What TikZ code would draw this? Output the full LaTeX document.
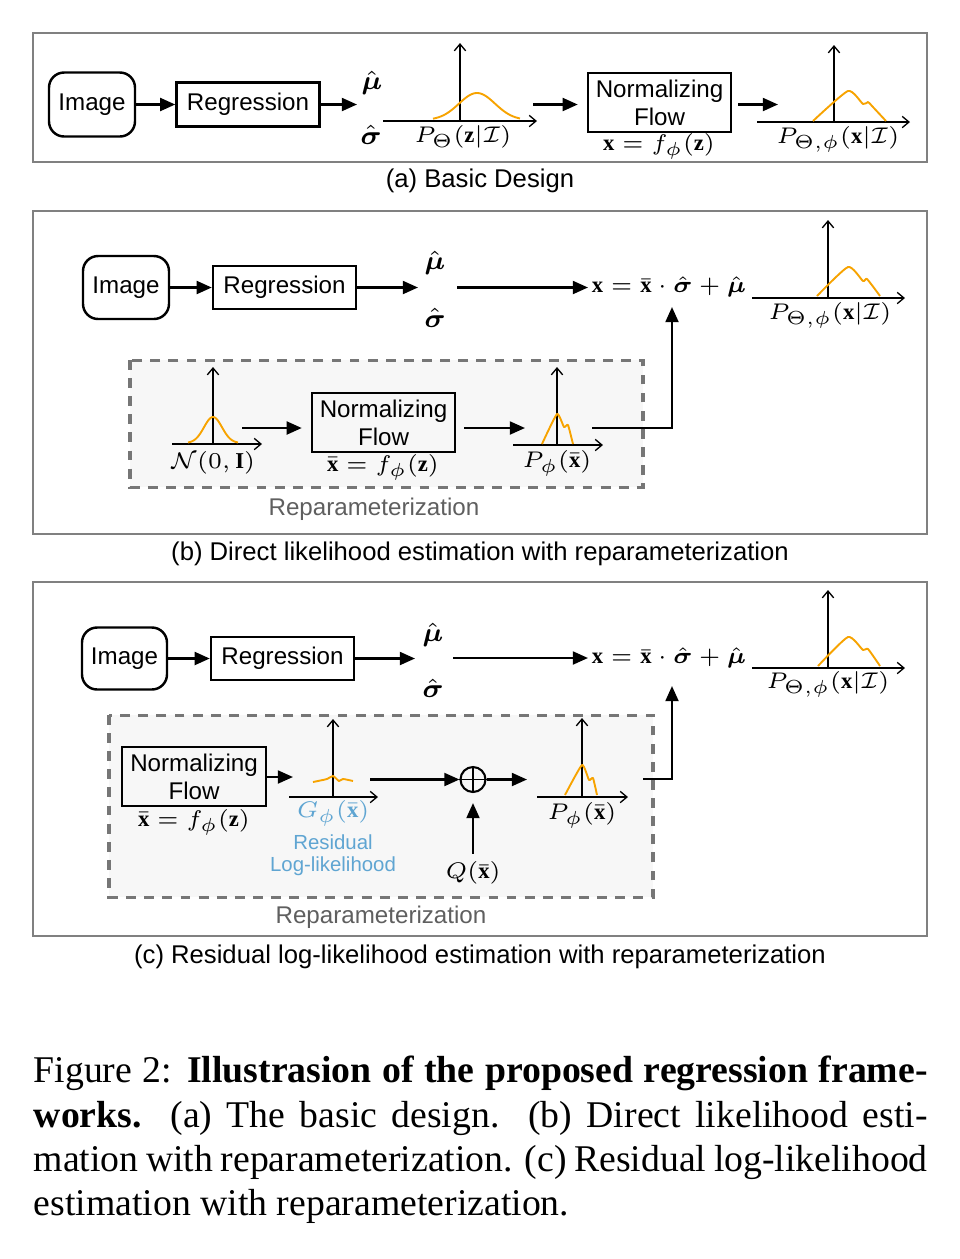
\documentclass[tikz,border=0pt]{standalone}
\usepackage{amsmath}
\usepackage{fontspec}
\setmainfont{Liberation Serif}
\setsansfont{Liberation Sans}
\usetikzlibrary{arrows.meta}
\definecolor{frameg}{RGB}{128,128,128}
\definecolor{dashg}{RGB}{118,118,118}
\definecolor{fillg}{RGB}{247,247,247}
\definecolor{orng}{RGB}{247,163,0}
\definecolor{resblue}{RGB}{95,165,210}
\definecolor{repg}{RGB}{95,95,95}
\def\pxu{0.265pt}
\begin{document}
\begin{tikzpicture}[x=0.265pt,y=-0.265pt,
  sf/.style={font=\sffamily\fontsize{6.4}{7.4}\selectfont},
  mth/.style={font=\fontsize{6}{7}\selectfont, inner sep=0pt},
  mbig/.style={font=\fontsize{7}{8}\selectfont, inner sep=0pt},
  frame/.style={draw=frameg, line width=0.55pt},
  box/.style={draw, line width=0.65pt, sf, inner sep=0pt, align=center},
  rbox/.style={box, rounded corners=4pt},
  arr/.style={line width=0.65pt, -{Triangle[length=4pt,width=3.4pt]}},
  axis/.style={line width=0.35pt, -{Straight Barb[length=1.8pt,width=3pt]}},
  dens/.style={draw=orng, line width=0.5pt, line join=round},
  rep/.style={draw=dashg, fill=fillg, line width=0.8pt, dash pattern=on 2.6pt off 2.2pt},
  lab/.style={font=\sffamily\fontsize{6.8}{7.6}\selectfont, inner sep=0pt},
  replab/.style={font=\sffamily\fontsize{6.4}{7.4}\selectfont, inner sep=0pt, text=repg},
  reslab/.style={font=\sffamily\fontsize{5.4}{6.4}\selectfont, inner sep=0pt, text=resblue},
  capline/.style={anchor=base west, inner sep=0pt, font=\fontsize{10}{12}\selectfont},
]
\useasboundingbox (0,0) rectangle (960,1259);
\fill[white] (0,0) rectangle (960,1259);

% ================= (a) =================
\draw[frame] (33,33) rectangle (927,162);
\node[rbox, minimum width=86*\pxu, minimum height=64*\pxu] (imga) at (92,104.5) {Image};
\node[box, minimum width=143*\pxu, minimum height=44*\pxu] (rega) at (248,104.5) {Regression};
\draw[arr] (imga) -- (rega);
\node[mbig] (mua) at (372,83) {$\hat{\boldsymbol{\mu}}$};
\node[mbig] (siga) at (371,135) {$\hat{\boldsymbol{\sigma}}$};
\coordinate (ina) at (357,104.5);
\draw[arr] (rega.east) -- (ina);
% distribution 1
\draw[axis] (383,121) -- (537,121);
\draw[axis] (460,121) -- (460,43);
\draw[dens] plot[domain=-44:43,samples=60] ({477+\x},{120-27*exp(-(\x/18)^2/2)});
\node[mth] (pa1) at (463,137) {$P_\Theta(\mathbf{z}|\mathcal{I})$};
\node[box, minimum width=143*\pxu, minimum height=59*\pxu] (nfa) at (659.5,102.5) {Normalizing\\Flow};
\coordinate (oa1) at (533,104.5);
\draw[arr, shorten >=9*\pxu] (oa1) -- (oa1 -| nfa.west);
\node[mth] (xa) at (659,146) {$\mathbf{x}=f_\phi(\mathbf{z})$};
\coordinate (ia2) at (778,104.5);
\draw[arr, shorten <=6*\pxu] (nfa.east |- ia2) -- (ia2);
% distribution 2
\draw[axis] (757,122) -- (910,122);
\draw[axis] (834,122) -- (834,45);
\draw[dens] plot[smooth,tension=0.35] coordinates {(813,121) (848,91) (863,104) (868,102) (872,106) (886,121)};
\node[mth] (pa2) at (838,139) {$P_{\Theta,\phi}(\mathbf{x}|\mathcal{I})$};
\node[lab] (capa) at (480,181) {(a) Basic Design};

% ================= (b) =================
\draw[frame] (33,211) rectangle (927,534);
\draw[rep] (130,360) rectangle (643,487);
\node[replab] (repb) at (374,509) {Reparameterization};
\node[rbox, minimum width=86*\pxu, minimum height=63*\pxu] (imgb) at (126,287.5) {Image};
\node[box, minimum width=143*\pxu, minimum height=43*\pxu] (regb) at (284.5,287.5) {Regression};
\draw[arr] (imgb) -- (regb);
\coordinate (inb) at (418,287.5);
\draw[arr] (regb.east) -- (inb);
\node[mbig] (mub) at (435,263) {$\hat{\boldsymbol{\mu}}$};
\node[mbig] (sigb) at (435,318) {$\hat{\boldsymbol{\sigma}}$};
\node[mth] (fb) at (669,287) {$\mathbf{x}=\bar{\mathbf{x}}\cdot\hat{\boldsymbol{\sigma}}+\hat{\boldsymbol{\mu}}$};
\coordinate (ob) at (457,287.5);
\draw[arr] (ob) -- (588,287.5) coordinate (eb);
% output distribution
\draw[axis] (752,298) -- (905,298);
\draw[axis] (828,298) -- (828,220);
\draw[dens] plot[smooth,tension=0.35] coordinates {(817,296) (848,267) (863,281) (867,279) (880,296)};
\node[mth] (pb2) at (830,315) {$P_{\Theta,\phi}(\mathbf{x}|\mathcal{I})$};
% reparameterization
\draw[axis] (172,444) -- (262,444);
\draw[axis] (213,444) -- (213,367);
\draw[dens] plot[domain=-25:25,samples=50] ({213+\x},{443-26*exp(-(\x/9)^2/2)});
\node[mth] (nb) at (213,463) {$\mathcal{N}(0,\mathbf{I})$};
\node[box, minimum width=143*\pxu, minimum height=59*\pxu] (nfb) at (383.5,422.5) {Normalizing\\Flow};
\coordinate (gb) at (242,428);
\draw[arr, shorten >=9*\pxu] (gb) -- (gb -| nfb.west);
\node[mth] (xbb) at (383,467) {$\bar{\mathbf{x}}=f_\phi(\mathbf{z})$};
\coordinate (pbin) at (525,428);
\draw[arr, shorten <=8*\pxu] (nfb.east |- pbin) -- (pbin);
\draw[axis] (513,445) -- (603,445);
\draw[axis] (557,445) -- (557,367);
\draw[dens] plot[smooth,tension=0.3] coordinates {(542,444) (557,414) (564,427) (568,425) (573,444)};
\node[mth] (ppb) at (557,463) {$P_\phi(\bar{\mathbf{x}})$};
\coordinate (pbout) at (592,428);
\coordinate (fbin) at (672,307);
\draw[line width=0.65pt, -{Triangle[length=4pt,width=3.4pt]}] (pbout) -| (fbin);
\node[lab] (capb) at (480,554) {(b) Direct likelihood estimation with reparameterization};

% ================= (c) =================
\draw[frame] (33,582) rectangle (927,936);
\draw[rep] (109,715) rectangle (653,897);
\node[replab] (repc) at (381,917) {Reparameterization};
\node[rbox, minimum width=85*\pxu, minimum height=62*\pxu] (imgc) at (124.5,658.5) {Image};
\node[box, minimum width=143*\pxu, minimum height=43*\pxu] (regc) at (282.5,658.5) {Regression};
\draw[arr] (imgc) -- (regc);
\coordinate (inc) at (415,658.5);
\draw[arr] (regc.east) -- (inc);
\node[mbig] (muc) at (433,635) {$\hat{\boldsymbol{\mu}}$};
\node[mbig] (sigc) at (433,688) {$\hat{\boldsymbol{\sigma}}$};
\node[mth] (fc) at (669,658) {$\mathbf{x}=\bar{\mathbf{x}}\cdot\hat{\boldsymbol{\sigma}}+\hat{\boldsymbol{\mu}}$};
\coordinate (oc) at (453,658);
\draw[arr] (oc) -- (588,658) coordinate (ec);
\draw[axis] (752,668) -- (905,668);
\draw[axis] (828,668) -- (828,590);
\draw[dens] plot[smooth,tension=0.35] coordinates {(818,666) (848,637) (863,650) (868,649) (880,666)};
\node[mth] (pc2) at (828,684) {$P_{\Theta,\phi}(\mathbf{x}|\mathcal{I})$};
% reparameterization
\node[box, minimum width=144*\pxu, minimum height=59*\pxu] (nfc) at (194,776.5) {Normalizing\\Flow};
\node[mth] (xbc) at (194,822) {$\bar{\mathbf{x}}=f_\phi(\mathbf{z})$};
\coordinate (gin) at (293,777);
\draw[arr] (nfc.east |- gin) -- (gin);
\draw[axis] (289,797) -- (378,797);
\draw[axis] (333,797) -- (333,719);
\draw[dens] plot[smooth,tension=0.4] coordinates {(313,782) (327,779) (333,776) (339,781) (343,779) (353,781)};
\node[mth, text=resblue] (gc) at (333,813) {$G_\phi(\bar{\mathbf{x}})$};
\node[reslab] (resc) at (333,842) {Residual};
\node[reslab] (llc) at (333,866) {Log-likelihood};
\node[draw, circle, line width=0.55pt, minimum size=25*\pxu, inner sep=0pt] (opc) at (473,779.5) {};
\draw[line width=0.5pt] (opc.north) -- (opc.south) (opc.west) -- (opc.east);
\coordinate (gout) at (370,779.5);
\draw[arr] (gout) -- (opc.west);
\coordinate (pcin) at (527,779.5);
\draw[arr] (opc.east) -- (pcin);
\node[mth] (qc) at (473,873) {$Q(\bar{\mathbf{x}})$};
\draw[arr, shorten <=7*\pxu, shorten >=10*\pxu] (qc.north) -- (opc.south);
\draw[axis] (537,797) -- (628,797);
\draw[axis] (582,797) -- (582,718);
\draw[dens] plot[smooth,tension=0.3] coordinates {(565,795) (582,765) (589,780) (593,778) (597,795)};
\node[mth] (ppc) at (582,815) {$P_\phi(\bar{\mathbf{x}})$};
\coordinate (pcout) at (643,779);
\coordinate (fcin) at (672,686);
\draw[line width=0.65pt, -{Triangle[length=4pt,width=3.4pt]}] (pcout) -| (fcin);
\node[lab] (capc) at (480,957) {(c) Residual log-likelihood estimation with reparameterization};

% ================= caption =================
\node[capline] (cap1) at (33,1082)
  {\makebox[236.9pt][s]{Figure 2: \textbf{Illustrasion of the proposed regression frame-}}};
\node[capline] (cap2) at (33,1127)
  {\makebox[236.9pt][s]{\textbf{works.}\ \ (a) The basic design.\ \ (b) Direct likelihood esti-}};
\node[capline] (cap3) at (33,1171)
  {\makebox[236.9pt][s]{mation with reparameterization. (c) Residual log-likelihood}};
\node[capline] (cap4) at (33,1215)
  {estimation with reparameterization.};
\end{tikzpicture}
\end{document}
